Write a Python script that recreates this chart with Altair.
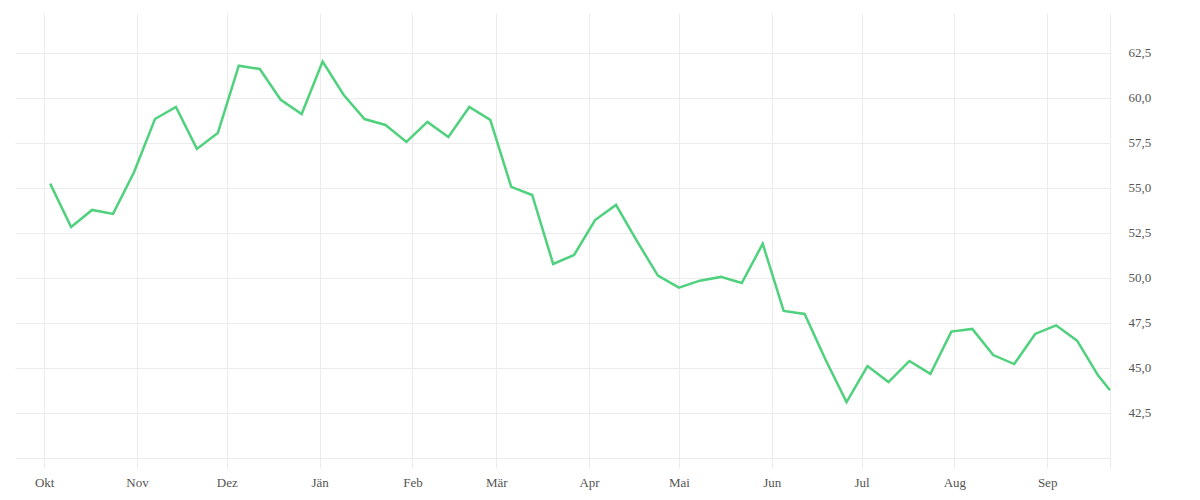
import altair as alt
import pandas as pd

dates = [
    "2022-10-03", "2022-10-10", "2022-10-17", "2022-10-24", "2022-10-31",
    "2022-11-07", "2022-11-14", "2022-11-21", "2022-11-28",
    "2022-12-05", "2022-12-12", "2022-12-19", "2022-12-26",
    "2023-01-02", "2023-01-09", "2023-01-16", "2023-01-23", "2023-01-30",
    "2023-02-06", "2023-02-13", "2023-02-20", "2023-02-27",
    "2023-03-06", "2023-03-13", "2023-03-20", "2023-03-27",
    "2023-04-03", "2023-04-10", "2023-04-17", "2023-04-24",
    "2023-05-01", "2023-05-08", "2023-05-15", "2023-05-22", "2023-05-29",
    "2023-06-05", "2023-06-12", "2023-06-19", "2023-06-26",
    "2023-07-03", "2023-07-10", "2023-07-17", "2023-07-24", "2023-07-31",
    "2023-08-07", "2023-08-14", "2023-08-21", "2023-08-28",
    "2023-09-04", "2023-09-11", "2023-09-18", "2023-09-22",
]
values = [
    55.24, 52.83, 53.78, 53.56, 55.87,
    58.83, 59.50, 57.17, 58.06,
    61.79, 61.61, 59.90, 59.11,
    62.02, 60.18, 58.83, 58.50, 57.56,
    58.67, 57.83, 59.50, 58.78,
    55.06, 54.61, 50.78, 51.28,
    53.22, 54.06, 52.05, 50.13,
    49.46, 49.85, 50.06, 49.72, 51.90,
    48.17, 48.00, 45.46, 43.11,
    45.11, 44.22, 45.39, 44.67, 47.02,
    47.17, 45.72, 45.22, 46.89,
    47.37, 46.52, 44.59, 43.76,
]
month_starts = [
    "2022-10-01", "2022-11-01", "2022-12-01", "2023-01-01", "2023-02-01",
    "2023-03-01", "2023-04-01", "2023-05-01", "2023-06-01", "2023-07-01",
    "2023-08-01", "2023-09-01", "2023-09-22",
]
month_names = ["Jän", "Feb", "Mär", "Apr", "Mai", "Jun", "Jul", "Aug", "Sep", "Okt", "Nov", "Dez"]
y_ticks = [40, 42.5, 45, 47.5, 50, 52.5, 55, 57.5, 60, 62.5]
x_domain = ["2022-09-21T06:00:00", "2023-09-22T00:00:00"]
y_domain = [40, 64.72]


def ms(s):
    return int(pd.Timestamp(s, tz="UTC").value // 10**6)


df = pd.DataFrame({"date": dates, "value": values})

names_js = "[" + ",".join("'" + m + "'" for m in month_names) + "]"

font = "Liberation Serif"
grid = "#ececec"

chart = (
    alt.Chart(df)
    .mark_line(color="#4fd17d", strokeWidth=2.5)
    .encode(
        x=alt.X(
            "date:T",
            title=None,
            scale=alt.Scale(type="utc", domain=[ms(d) for d in x_domain], nice=False),
            axis=alt.Axis(
                values=[ms(d) for d in month_starts],
                labelExpr=f"utcdate(datum.value) == 1 ? {names_js}[utcmonth(datum.value)] : ''",
                grid=True,
                gridColor=grid,
                ticks=True,
                tickColor=grid,
                tickSize=10,
                domain=False,
                labelPadding=8,
                labelFont=font,
                labelFontSize=13,
                labelColor="#555",
            ),
        ),
        y=alt.Y(
            "value:Q",
            title=None,
            scale=alt.Scale(domain=y_domain, nice=False, zero=False),
            axis=alt.Axis(
                orient="right",
                values=y_ticks,
                labelExpr="datum.value == 40 ? '' : replace(format(datum.value, '.1f'), '.', ',')",
                grid=True,
                gridColor=grid,
                ticks=False,
                tickSize=0,
                domain=False,
                labelPadding=18,
                labelFont=font,
                labelFontSize=13,
                labelColor="#555",
            ),
        ),
    )
    .properties(
        width=1095,
        height=445,
        padding={"left": 7, "top": 5, "right": 10, "bottom": 5},
    )
    .configure_view(stroke=None)
)

chart.save("out.html", embed_options={"renderer": "svg", "actions": False})
